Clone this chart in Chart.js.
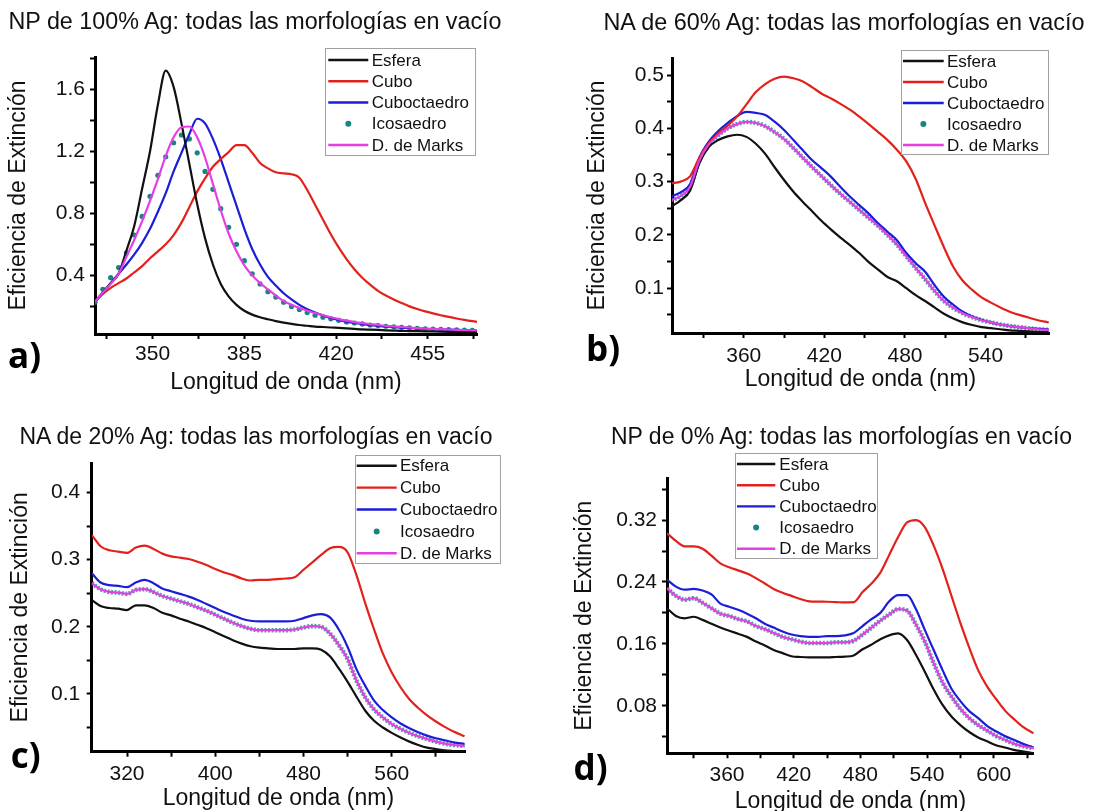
<!DOCTYPE html>
<html>
<head>
<meta charset="utf-8">
<script src="https://cdn.jsdelivr.net/npm/chart.js@4.4.1/dist/chart.umd.min.js"></script>
<style>
html, body { margin: 0; padding: 0; overflow: hidden; background: #fff; }
#page { position: relative; width: 1094px; height: 811px; overflow: hidden; }
canvas { position: absolute; }
.ttl { position: absolute; width: 640px; text-align: center; white-space: nowrap;
       font: 23px/1 "Liberation Sans", Arial, sans-serif; color: #111; }
.lbl { position: absolute; font: bold 35px/1 "Open Sans", sans-serif; color: #000; }
</style>
</head>
<body>
<div id="page">
  <canvas id="cA" width="547" height="410" style="left:0;top:0"></canvas>
  <canvas id="cB" width="547" height="410" style="left:547px;top:0"></canvas>
  <canvas id="cC" width="547" height="410" style="left:0;top:410px"></canvas>
  <canvas id="cD" width="547" height="410" style="left:547px;top:410px"></canvas>

  <div class="ttl" style="left:-65px;top:9.6px;font-size:23.3px">NP de 100% Ag: todas las morfologías en vacío</div>
  <div class="ttl" style="left:524px;top:11.1px;font-size:23.4px">NA de 60% Ag: todas las morfologías en vacío</div>
  <div class="ttl" style="left:-64px;top:424.5px">NA de 20% Ag: todas las morfologías en vacío</div>
  <div class="ttl" style="left:521.5px;top:425.4px">NP de 0% Ag: todas las morfologías en vacío</div>

  <div class="lbl" style="left:8px;top:336.9px">a)</div>
  <div class="lbl" style="left:586px;top:329.6px">b)</div>
  <div class="lbl" style="left:10.7px;top:736.9px">c)</div>
  <div class="lbl" style="left:573.6px;top:748.9px">d)</div>
</div>

<script>
// ---------- a) NP 100% Ag ----------
const wlA = [328, 331, 334, 337, 340, 343, 346, 349, 352, 355, 358, 361, 364, 367, 370, 373, 376, 379, 382, 385,
  388, 391, 394, 397, 400, 403, 406, 409, 412, 415, 418, 421, 424, 427, 430, 433, 436, 439, 442, 445,
  448, 451, 454, 457, 460, 463, 466, 469, 472, 475];
const esferaA = [0.23, 0.29, 0.35, 0.41, 0.56, 0.72, 0.96, 1.20, 1.50, 1.72, 1.615, 1.38, 1.12, 0.86, 0.64, 0.47, 0.345, 0.265, 0.21, 0.172,
  0.147, 0.13, 0.117, 0.105, 0.095, 0.087, 0.08, 0.075, 0.07, 0.067, 0.064, 0.061, 0.058, 0.055, 0.052, 0.05, 0.048, 0.046, 0.044, 0.042,
  0.041, 0.04, 0.039, 0.038, 0.037, 0.036, 0.035, 0.035, 0.034, 0.034];
const cuboA = [0.23, 0.28, 0.32, 0.35, 0.38, 0.42, 0.46, 0.51, 0.555, 0.60, 0.66, 0.74, 0.84, 0.94, 1.025, 1.10, 1.15, 1.195, 1.24, 1.24,
  1.19, 1.125, 1.09, 1.065, 1.058, 1.052, 1.03, 0.95, 0.855, 0.76, 0.665, 0.58, 0.505, 0.44, 0.385, 0.34, 0.30, 0.27, 0.245, 0.222,
  0.20, 0.183, 0.168, 0.155, 0.143, 0.132, 0.122, 0.113, 0.105, 0.098];
const cuboctA = [0.23, 0.29, 0.35, 0.41, 0.47, 0.535, 0.61, 0.70, 0.81, 0.93, 1.07, 1.19, 1.31, 1.41, 1.38, 1.28, 1.15, 1.00, 0.85, 0.70,
  0.57, 0.47, 0.39, 0.335, 0.285, 0.245, 0.21, 0.182, 0.16, 0.142, 0.126, 0.113, 0.102, 0.093, 0.086, 0.079, 0.074, 0.07, 0.066, 0.063,
  0.06, 0.057, 0.055, 0.053, 0.051, 0.05, 0.048, 0.047, 0.046, 0.045];
const icosaA = [0.227, 0.31, 0.385, 0.45, 0.545, 0.66, 0.78, 0.91, 1.045, 1.165, 1.255, 1.305, 1.28, 1.19, 1.07, 0.955, 0.83, 0.71, 0.60, 0.495,
  0.41, 0.345, 0.295, 0.26, 0.227, 0.20, 0.18, 0.16, 0.143, 0.13, 0.12, 0.11, 0.10, 0.093, 0.087, 0.08, 0.076, 0.072, 0.068, 0.065,
  0.062, 0.059, 0.056, 0.054, 0.052, 0.05, 0.049, 0.047, 0.046, 0.045];
const marksA = [0.23, 0.29, 0.345, 0.41, 0.52, 0.63, 0.75, 0.88, 1.02, 1.17, 1.29, 1.355, 1.36, 1.29, 1.16, 0.99, 0.82, 0.67, 0.555, 0.465,
  0.40, 0.35, 0.31, 0.27, 0.235, 0.21, 0.19, 0.172, 0.157, 0.143, 0.13, 0.118, 0.108, 0.099, 0.092, 0.086, 0.08, 0.075, 0.071, 0.067,
  0.064, 0.06, 0.057, 0.055, 0.053, 0.051, 0.049, 0.047, 0.046, 0.045];
const xTicksA = [332.5, 350, 367.5, 385, 402.5, 420, 437.5, 455, 472.5];
const xLabelsA = [350, 385, 420, 455];
const yTicksA = [0.2, 0.4, 0.6, 0.8, 1.0, 1.2, 1.4, 1.6, 1.8];
const yLabelsA = [0.4, 0.8, 1.2, 1.6];

// ---------- b) NA 60% Ag ----------
const wlB = [306, 313, 320, 327, 334, 341, 348, 355, 362, 369, 376, 383, 390, 397, 404, 411, 418, 425, 432, 439,
  446, 453, 460, 467, 474, 481, 488, 495, 502, 509, 516, 523, 530, 537, 544, 551, 558, 565, 572, 579, 587];
const esferaB = [0.253, 0.265, 0.283, 0.335, 0.365, 0.378, 0.385, 0.388, 0.384, 0.371, 0.352, 0.327, 0.303, 0.281, 0.262, 0.244, 0.226, 0.21, 0.195, 0.181,
  0.166, 0.149, 0.135, 0.121, 0.113, 0.1, 0.087, 0.076, 0.064, 0.052, 0.043, 0.036, 0.031, 0.027, 0.025, 0.023, 0.021, 0.02, 0.019, 0.018, 0.0175];
const cuboB = [0.297, 0.3, 0.31, 0.345, 0.372, 0.39, 0.405, 0.422, 0.445, 0.468, 0.483, 0.493, 0.497, 0.494, 0.488, 0.477, 0.465, 0.456, 0.446, 0.435,
  0.422, 0.408, 0.393, 0.378, 0.36, 0.338, 0.305, 0.26, 0.218, 0.177, 0.14, 0.114, 0.097, 0.083, 0.073, 0.064, 0.056, 0.05, 0.045, 0.04, 0.036];
const cuboctB = [0.272, 0.28, 0.295, 0.345, 0.375, 0.395, 0.41, 0.423, 0.431, 0.429, 0.425, 0.4125, 0.397, 0.378, 0.359, 0.34, 0.325, 0.309, 0.29, 0.272,
  0.256, 0.24, 0.222, 0.206, 0.19, 0.166, 0.147, 0.131, 0.106, 0.084, 0.069, 0.056, 0.047, 0.041, 0.036, 0.032, 0.029, 0.027, 0.025, 0.024, 0.023];
const icosaB = [0.265, 0.273, 0.29, 0.34, 0.37, 0.387, 0.4, 0.408, 0.412, 0.41, 0.404, 0.393, 0.38, 0.363, 0.345, 0.327, 0.31, 0.293, 0.277, 0.262,
  0.247, 0.232, 0.217, 0.2, 0.182, 0.16, 0.138, 0.117, 0.095, 0.076, 0.063, 0.053, 0.046, 0.04, 0.036, 0.032, 0.029, 0.027, 0.025, 0.023, 0.022];
const marksB = [0.265, 0.273, 0.29, 0.34, 0.37, 0.387, 0.4, 0.408, 0.412, 0.41, 0.404, 0.393, 0.38, 0.363, 0.345, 0.327, 0.31, 0.293, 0.277, 0.262,
  0.247, 0.232, 0.217, 0.2, 0.182, 0.16, 0.138, 0.117, 0.095, 0.076, 0.063, 0.053, 0.046, 0.04, 0.036, 0.032, 0.029, 0.027, 0.025, 0.023, 0.022];
const xTicksB = [330, 360, 390, 420, 450, 480, 510, 540, 570];
const xLabelsB = [360, 420, 480, 540];
const yTicksB = [0.05, 0.1, 0.15, 0.2, 0.25, 0.3, 0.35, 0.4, 0.45, 0.5];
const yLabelsB = [0.1, 0.2, 0.3, 0.4, 0.5];

// ---------- c) NA 20% Ag ----------
const wlC = [288, 296, 304, 312, 320, 328, 336, 344, 352, 360, 368, 376, 384, 392, 400, 408, 416, 424, 432, 440,
  448, 456, 464, 472, 480, 488, 496, 504, 512, 520, 528, 536, 544, 552, 560, 568, 576, 584, 592, 600, 608, 616, 626];
const esferaC = [0.24, 0.231, 0.228, 0.227, 0.225, 0.232, 0.232, 0.228, 0.221, 0.217, 0.212, 0.208, 0.203, 0.198, 0.192, 0.186, 0.18, 0.175, 0.171, 0.169,
  0.168, 0.167, 0.167, 0.167, 0.168, 0.168, 0.166, 0.156, 0.138, 0.118, 0.096, 0.075, 0.06, 0.05, 0.042, 0.035, 0.029, 0.024, 0.02, 0.018, 0.016, 0.015, 0.014];
const cuboC = [0.337, 0.32, 0.314, 0.312, 0.31, 0.318, 0.321, 0.316, 0.309, 0.305, 0.303, 0.301, 0.297, 0.292, 0.286, 0.281, 0.277, 0.272, 0.269, 0.27,
  0.27, 0.271, 0.272, 0.274, 0.285, 0.296, 0.307, 0.317, 0.319, 0.311, 0.277, 0.235, 0.196, 0.16, 0.132, 0.11, 0.092, 0.079, 0.068, 0.059, 0.051, 0.044, 0.037];
const cuboctC = [0.28, 0.266, 0.262, 0.261, 0.259, 0.266, 0.27, 0.265, 0.257, 0.253, 0.249, 0.245, 0.24, 0.234, 0.228, 0.222, 0.217, 0.212, 0.209, 0.208,
  0.208, 0.208, 0.208, 0.209, 0.213, 0.217, 0.219, 0.214, 0.196, 0.17, 0.137, 0.112, 0.09, 0.076, 0.065, 0.056, 0.049, 0.043, 0.038, 0.034, 0.031, 0.028, 0.0255];
const icosaC = [0.265, 0.256, 0.252, 0.251, 0.249, 0.255, 0.256, 0.252, 0.246, 0.242, 0.238, 0.234, 0.229, 0.224, 0.218, 0.212, 0.206, 0.201, 0.197, 0.195,
  0.195, 0.195, 0.195, 0.196, 0.199, 0.201, 0.2, 0.19, 0.173, 0.152, 0.12, 0.095, 0.077, 0.065, 0.055, 0.048, 0.042, 0.037, 0.033, 0.029, 0.026, 0.024, 0.0225];
const marksC = [0.265, 0.256, 0.252, 0.251, 0.249, 0.255, 0.256, 0.252, 0.246, 0.242, 0.238, 0.234, 0.229, 0.224, 0.218, 0.212, 0.206, 0.201, 0.197, 0.195,
  0.195, 0.195, 0.195, 0.196, 0.199, 0.201, 0.2, 0.19, 0.173, 0.152, 0.12, 0.095, 0.077, 0.065, 0.055, 0.048, 0.042, 0.037, 0.033, 0.029, 0.026, 0.024, 0.0225];
const xTicksC = [320, 360, 400, 440, 480, 520, 560, 600];
const xLabelsC = [320, 400, 480, 560];
const yTicksC = [0.05, 0.1, 0.15, 0.2, 0.25, 0.3, 0.35, 0.4];
const yLabelsC = [0.1, 0.2, 0.3, 0.4];

// ---------- d) NP 0% Ag ----------
const wlD = [306, 314, 322, 330, 338, 346, 354, 362, 370, 378, 386, 394, 402, 410, 418, 426, 434, 442, 450, 458,
  466, 474, 482, 490, 498, 506, 514, 522, 530, 538, 546, 554, 562, 570, 578, 586, 594, 602, 610, 618, 626, 636];
const esferaD = [0.206, 0.196, 0.193, 0.195, 0.191, 0.186, 0.181, 0.177, 0.173, 0.169, 0.163, 0.158, 0.152, 0.148, 0.144, 0.143, 0.1425, 0.1425, 0.1425, 0.143,
  0.1435, 0.145, 0.153, 0.159, 0.166, 0.171, 0.1735, 0.165, 0.146, 0.124, 0.101, 0.081, 0.066, 0.055, 0.046, 0.039, 0.034, 0.029, 0.026, 0.023, 0.021, 0.0184];
const cuboD = [0.303, 0.293, 0.286, 0.286, 0.283, 0.274, 0.264, 0.259, 0.255, 0.251, 0.245, 0.238, 0.231, 0.226, 0.222, 0.218, 0.215, 0.2145, 0.2144, 0.214,
  0.2135, 0.214, 0.227, 0.238, 0.252, 0.275, 0.298, 0.317, 0.32, 0.311, 0.287, 0.257, 0.222, 0.187, 0.155, 0.126, 0.105, 0.089, 0.074, 0.063, 0.053, 0.0443];
const cuboctD = [0.243, 0.234, 0.23, 0.231, 0.229, 0.224, 0.212, 0.208, 0.204, 0.199, 0.193, 0.186, 0.181, 0.176, 0.172, 0.17, 0.169, 0.169, 0.17, 0.17,
  0.171, 0.174, 0.183, 0.192, 0.2, 0.215, 0.223, 0.223, 0.205, 0.178, 0.152, 0.126, 0.102, 0.086, 0.073, 0.064, 0.054, 0.047, 0.041, 0.036, 0.031, 0.026];
const icosaD = [0.232, 0.222, 0.217, 0.219, 0.213, 0.206, 0.199, 0.196, 0.192, 0.189, 0.183, 0.179, 0.174, 0.169, 0.166, 0.163, 0.161, 0.161, 0.161, 0.162,
  0.162, 0.164, 0.172, 0.181, 0.19, 0.198, 0.205, 0.203, 0.185, 0.163, 0.135, 0.11, 0.092, 0.076, 0.064, 0.055, 0.048, 0.041, 0.036, 0.031, 0.028, 0.025];
const marksD = [0.232, 0.222, 0.217, 0.219, 0.213, 0.206, 0.199, 0.196, 0.192, 0.189, 0.183, 0.179, 0.174, 0.169, 0.166, 0.163, 0.161, 0.161, 0.161, 0.162,
  0.162, 0.164, 0.172, 0.181, 0.19, 0.198, 0.205, 0.203, 0.185, 0.163, 0.135, 0.11, 0.092, 0.076, 0.064, 0.055, 0.048, 0.041, 0.036, 0.031, 0.028, 0.025];
const xTicksD = [330, 360, 390, 420, 450, 480, 510, 540, 570, 600, 630];
const xLabelsD = [360, 420, 480, 540, 600];
const yTicksD = [0.04, 0.08, 0.12, 0.16, 0.2, 0.24, 0.28, 0.32, 0.36];
const yLabelsD = [0.08, 0.16, 0.24, 0.32];

const BLACK = '#111111', RED = '#e3211c', BLUE = '#1d1dd8', MAGENTA = '#e43fe4', TEAL = '#198484';
const FONT = '"Liberation Sans", Arial, sans-serif';
Chart.defaults.font.family = FONT;
Chart.defaults.color = '#111';

// legend drawn as a framed box inside the plot, like the original figure
const boxLegend = {
  id: 'boxLegend',
  afterDraw(chart, args, o) {
    const ctx = chart.ctx;
    ctx.save();
    ctx.fillStyle = '#fff';
    ctx.fillRect(o.x, o.y, o.w, o.h);
    ctx.strokeStyle = '#a0a0a0';
    ctx.lineWidth = 1;
    ctx.strokeRect(Math.round(o.x) + 0.5, Math.round(o.y) + 0.5, Math.round(o.w), Math.round(o.h));
    ctx.font = '17px ' + FONT;
    ctx.textBaseline = 'middle';
    chart.data.datasets.forEach((ds, i) => {
      const y = o.y + o.first + i * o.row;
      const x0 = o.x + o.pad;
      if (ds.marker === 'dot') {
        ctx.fillStyle = TEAL;
        ctx.beginPath();
        ctx.arc(x0 + o.line / 2, y, 3, 0, Math.PI * 2);
        ctx.fill();
      } else {
        ctx.strokeStyle = ds.borderColor;
        ctx.lineWidth = 2.4;
        ctx.beginPath();
        ctx.moveTo(x0, y);
        ctx.lineTo(x0 + o.line, y);
        ctx.stroke();
      }
      ctx.fillStyle = '#111';
      ctx.fillText(ds.label, x0 + o.line + o.gap, y + 1);
    });
    ctx.restore();
  }
};

function pts(xs, ys) {
  return xs.map((x, i) => ({ x: x, y: ys[i] }));
}

function datasets(wl, esfera, cubo, cuboct, icosa, marks, dots) {
  const ico = dots
    ? { label: 'Icosaedro', data: pts(wl, icosa), showLine: false, pointRadius: 2.6,
        pointBackgroundColor: TEAL, pointBorderWidth: 0, borderColor: TEAL, order: 5, marker: 'dot' }
    : { label: 'Icosaedro', data: pts(wl, icosa), borderColor: 'rgba(25,132,132,0.75)',
        borderWidth: 4.6, borderDash: [2, 1.6], order: 5, marker: 'dot' };
  return [
    { label: 'Esfera', data: pts(wl, esfera), borderColor: BLACK, order: 2 },
    { label: 'Cubo', data: pts(wl, cubo), borderColor: RED, order: 3 },
    { label: 'Cuboctaedro', data: pts(wl, cuboct), borderColor: BLUE, order: 4 },
    ico,
    { label: 'D. de Marks', data: pts(wl, marks), borderColor: MAGENTA, order: 1 }
  ];
}

function axis(min, max, ticks, labels, pad, title, titlePad) {
  return {
    type: 'linear', min: min, max: max,
    afterBuildTicks: s => { s.ticks = ticks.map(v => ({ value: v })); },
    ticks: {
      autoSkip: false, maxRotation: 0, padding: pad, color: '#111',
      font: { size: 21, lineHeight: 1.2 },
      callback: v => (labels.includes(v) ? String(v) : '')
    },
    grid: { drawOnChartArea: false, drawTicks: true, tickLength: 5, tickWidth: 2, tickColor: '#000' },
    border: { display: true, color: '#000', width: 3 },
    title: { display: true, text: title, color: '#111', font: { size: 23, lineHeight: 1.2 }, padding: titlePad }
  };
}

function panel(id, ds, L) {
  const x = axis(L.xmin, L.xmax, L.xTicks, L.xLabels, L.xPad, 'Longitud de onda (nm)', { top: 0, bottom: 0 });
  x.afterFit = s => { s.height = L.xH; };
  const y = axis(L.ymin, L.ymax, L.yTicks, L.yLabels, L.yPad, 'Eficiencia de Extinción', { top: L.yTitle, bottom: 0 });
  y.afterFit = s => { s.width = L.yW; };
  return new Chart(document.getElementById(id), {
    type: 'line',
    data: { datasets: ds },
    plugins: [boxLegend],
    options: {
      responsive: false,
      animation: false,
      events: [],
      layout: { padding: L.padding },
      elements: {
        line: { borderWidth: 2.2, cubicInterpolationMode: 'monotone', fill: false },
        point: { radius: 0 }
      },
      plugins: { legend: { display: false }, tooltip: { enabled: false }, boxLegend: L.legend },
      scales: { x: x, y: y }
    }
  });
}

panel('cA', datasets(wlA, esferaA, cuboA, cuboctA, icosaA, marksA, true), {
  xmin: 328, xmax: 473.8, ymin: 0.022, ymax: 1.808,
  xTicks: xTicksA, xLabels: xLabelsA, yTicks: yTicksA, yLabels: yLabelsA,
  xH: 62, xPad: 3, yW: 95, yPad: 5, yTitle: 5.1,
  padding: { left: 0, top: 57, right: 70, bottom: 14 },
  legend: { x: 325, y: 48.3, w: 150, h: 106.7, first: 11.7, row: 21.25, pad: 3.3, line: 40, gap: 3.4 }
});

panel('cB', datasets(wlB, esferaB, cuboB, cuboctB, icosaB, marksB, false), {
  xmin: 306.6, xmax: 587.2, ymin: 0.016, ymax: 0.532,
  xTicks: xTicksB, xLabels: xLabelsB, yTicks: yTicksB, yLabels: yLabelsB,
  xH: 60, xPad: 5.5, yW: 125, yPad: 3, yTitle: 37,
  padding: { left: 0, top: 58, right: 45, bottom: 17 },
  legend: { x: 354, y: 50, w: 147, h: 104, first: 11, row: 21, pad: 2, line: 40.7, gap: 3.3 }
});

panel('cC', datasets(wlC, esferaC, cuboC, cuboctC, icosaC, marksC, false), {
  xmin: 288, xmax: 626.4, ymin: 0.014, ymax: 0.444,
  xTicks: xTicksC, xLabels: xLabelsC, yTicks: yTicksC, yLabels: yLabelsC,
  xH: 61, xPad: 5.2, yW: 91.7, yPad: 6.5, yTitle: 6.8,
  padding: { left: 0, top: 53, right: 82, bottom: 7.3 },
  legend: { x: 355, y: 45, w: 145, h: 108.3, first: 10.7, row: 21.9, pad: 1.7, line: 40, gap: 3.3 }
});

panel('cD', datasets(wlD, esferaD, cuboD, cuboctD, icosaD, marksD, false), {
  xmin: 306, xmax: 636, ymin: 0.0185, ymax: 0.374,
  xTicks: xTicksD, xLabels: xLabelsD, yTicks: yTicksD, yLabels: yLabelsD,
  xH: 62, xPad: 4.3, yW: 120, yPad: 5, yTitle: 23.5,
  padding: { left: 0, top: 68.3, right: 60.3, bottom: 4.7 },
  legend: { x: 188.3, y: 43.3, w: 141.7, h: 105, first: 10.7, row: 21.2, pad: 1.7, line: 38.3, gap: 4 }
});
</script>
</body>
</html>
